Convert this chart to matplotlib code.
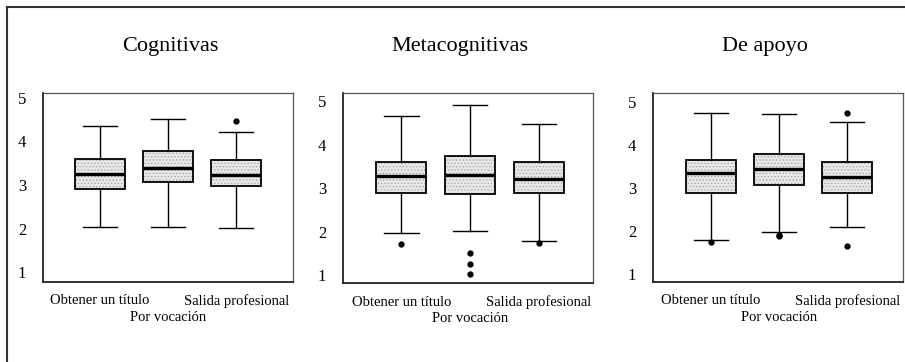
import matplotlib
matplotlib.use("Agg")
import matplotlib.pyplot as plt
from matplotlib.lines import Line2D
from matplotlib.patches import PathPatch

plt.rcParams['font.family'] = ['Liberation Serif', 'DejaVu Serif']
plt.rcParams['hatch.linewidth'] = 0.6

titles = ["Cognitivas", "Metacognitivas", "De apoyo"]
groups = ["Obtener un título", "Por vocación", "Salida profesional"]

# per panel, per group: lower whisker, Q1, median, Q3, upper whisker, outliers
cog_whislo = [2.03, 2.05, 2.01]
cog_q1 = [2.91, 3.07, 2.97]
cog_med = [3.25, 3.39, 3.23]
cog_q3 = [3.59, 3.77, 3.58]
cog_whishi = [4.36, 4.51, 4.21]
cog_fliers = [[], [], [4.47]]

meta_whislo = [1.97, 2.01, 1.78]
meta_q1 = [2.88, 2.87, 2.88]
meta_med = [3.29, 3.30, 3.21]
meta_q3 = [3.60, 3.73, 3.60]
meta_whishi = [4.65, 4.92, 4.48]
meta_fliers = [[1.71], [1.50, 1.25, 1.02], [1.74]]

apo_whislo = [1.79, 1.97, 2.10]
apo_q1 = [2.89, 3.07, 2.89]
apo_med = [3.34, 3.44, 3.26]
apo_q3 = [3.65, 3.78, 3.61]
apo_whishi = [4.74, 4.72, 4.54]
apo_fliers = [[1.73], [1.90, 1.87], [4.75, 1.65]]

panels = [
    (cog_whislo, cog_q1, cog_med, cog_q3, cog_whishi, cog_fliers),
    (meta_whislo, meta_q1, meta_med, meta_q3, meta_whishi, meta_fliers),
    (apo_whislo, apo_q1, apo_med, apo_q3, apo_whishi, apo_fliers),
]

W, H = 905, 362
fig = plt.figure(figsize=(W / 100, H / 100), dpi=100)

ax_px = [(43, 293, 93, 282), (343, 593, 93, 283), (653, 903, 93, 282)]
ylims = [(0.78, 5.11), (0.82, 5.19), (0.81, 5.21)]
xlims = [(0.17, 3.83), (0.15, 3.79), (0.15, 3.82)]
title_x = [170, 460, 765]

for i, (pan, (l, r, t, b)) in enumerate(zip(panels, ax_px)):
    ax = fig.add_axes([l / W, 1 - b / H, (r - l) / W, (b - t) / H])
    wl, q1, md, q3, wh, fl = pan
    stats = []
    for k in range(3):
        stats.append(dict(label=groups[k], whislo=wl[k], q1=q1[k], med=md[k],
                          q3=q3[k], whishi=wh[k], fliers=fl[k]))
    bp = ax.bxp(stats, positions=[1, 2, 3], widths=0.73, capwidths=0.5,
                patch_artist=True, showfliers=True, manage_ticks=False,
                boxprops=dict(facecolor='#e8e8e8', edgecolor='#a8a8a8', linewidth=0.0, hatch='.....'),
                medianprops=dict(color='black', linewidth=2.4),
                whiskerprops=dict(color='black', linewidth=1.0),
                capprops=dict(color='black', linewidth=1.0),
                flierprops=dict(marker='o', markerfacecolor='black', markeredgecolor='black',
                                markersize=3.5))
    for p in bp['boxes']:
        ax.add_patch(PathPatch(p.get_path(), fill=False, edgecolor='black', linewidth=1.3,
                               transform=p.get_transform(), zorder=p.get_zorder() + 0.1))
    ax.set_xlim(*xlims[i])
    ax.set_ylim(*ylims[i])
    ax.set_yticks([1, 2, 3, 4, 5])
    ax.set_yticklabels(['1', '2', '3', '4', '5'], fontsize=12)
    ax.set_xticks([1, 3])
    ax.set_xticklabels([groups[0], groups[2]], fontsize=10.5)
    ax.set_xticks([2], minor=True)
    ax.set_xticklabels([groups[1]], minor=True, fontsize=10.5)
    ax.tick_params(axis='both', which='both', length=0)
    ax.tick_params(axis='y', pad=12)
    ax.tick_params(axis='x', which='major', pad=9)
    ax.tick_params(axis='x', which='minor', pad=21)
    for s in ['left', 'bottom']:
        ax.spines[s].set_linewidth(1.3)
        ax.spines[s].set_color('#222222')
    for s in ['top', 'right']:
        ax.spines[s].set_linewidth(0.9)
        ax.spines[s].set_color('#555555')
    fig.text(title_x[i] / W, 1 - 46 / H, titles[i], ha='center', va='center', fontsize=16)

# outer frame
fig.add_artist(Line2D([7 / W, 7 / W], [0, 1 - 7 / H], transform=fig.transFigure,
                      color='#333333', linewidth=1.5))
fig.add_artist(Line2D([7 / W, 1], [1 - 7 / H, 1 - 7 / H], transform=fig.transFigure,
                      color='#333333', linewidth=1.5))

fig.savefig("out.png", dpi=100, facecolor='white')
